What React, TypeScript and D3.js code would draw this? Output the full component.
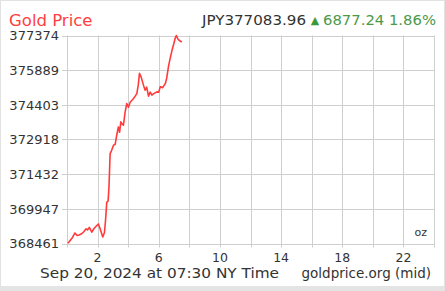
import React from "react";
import * as d3 from "d3";

const hours = [0.05,0.13,0.23,0.36,0.52,0.66,0.79,0.96,1.11,1.25,1.34,1.46,1.62,1.77,1.95,2.05,2.16,2.34,2.45,2.52,2.6,2.69,2.75,2.82,2.92,3.04,3.15,3.25,3.36,3.44,3.52,3.61,3.69,3.8,3.91,4.02,4.13,4.35,4.46,4.57,4.66,4.74,4.85,5.0,5.11,5.21,5.33,5.44,5.55,5.67,5.88,6.0,6.1,6.26,6.43,6.52,6.64,6.75,6.87,6.98,7.08,7.15,7.25,7.34,7.51];
const prices = [368470,368525,368611,368719,368912,368805,368826,368878,368976,369092,369041,369148,368946,369105,369234,369298,369105,368740,368933,369449,370222,370286,370952,372314,372455,372670,372713,373100,373456,373229,373671,373572,373529,374088,374461,374302,374517,374676,374775,374891,375247,375750,375590,375247,375032,375161,374775,374947,374818,374882,374959,374947,375174,375140,375320,375548,376063,376407,376750,377008,377266,377374,377223,377158,377094];
const yTicks = [368461, 369947, 371432, 372918, 374403, 375889, 377374];
const xLabelTicks = [2, 6, 10, 14, 18, 22];
const title = "Gold Price";
const priceText = "JPY377083.96";
const changeText = "6877.24 1.86%";
const footerLeft = "Sep 20, 2024 at 07:30 NY Time";
const footerRight = "goldprice.org (mid)";
const unitText = "oz";

const W = 445, H = 291;
const L = 67, R = 434, T = 35.5, B = 243.5;
const FONT = "'DejaVu Sans', Verdana, sans-serif";

export default function App() {
  const x = d3.scaleLinear().domain([0, 24]).range([L, R]);
  const y = d3.scaleLinear().domain([yTicks[0], yTicks[yTicks.length - 1]]).range([B, T]);
  const line = d3.line<number>().x((_, i) => x(hours[i])).y((d) => y(d));
  const gridX = d3.range(0, 25, 2);
  const grid = "#cfcfcf";
  return (
    <svg width={W} height={H} style={{ position: "absolute", left: 0, top: 0, background: "#fff" }} fontFamily={FONT}>
      <rect x={0.5} y={0.5} width={W - 1} height={H - 1} fill="#fff" stroke="#e2e2e2" />
      <rect x={0} y={286} width={W} height={5} fill="#e4e4e4" />
      {gridX.map((g) => (
        <line key={"gx" + g} x1={Math.round(x(g)) + 0.5} x2={Math.round(x(g)) + 0.5} y1={T} y2={B + 4} stroke={grid} strokeWidth={1} />
      ))}
      {yTicks.map((t) => (
        <line key={"gy" + t} x1={L - 5} x2={R} y1={Math.round(y(t)) + 0.5} y2={Math.round(y(t)) + 0.5} stroke={grid} strokeWidth={1} />
      ))}
      {yTicks.map((t) => (
        <text key={"ty" + t} x={59} y={y(t)} dy="0.36em" textAnchor="end" fontSize={13} fill="#333">{t}</text>
      ))}
      {xLabelTicks.map((t) => (
        <text key={"tx" + t} x={x(t)} y={262} textAnchor="middle" fontSize={12.5} fill="#333">{t}</text>
      ))}
      <path d={line(prices) || ""} fill="none" stroke="#ff3b3b" strokeWidth={1.6} strokeLinejoin="round" />
      <text x={427} y={236} textAnchor="end" fontSize={11} fill="#333">{unitText}</text>
      <text x={9} y={25.5} fontSize={16.5} fill="#ff4040">{title}</text>
      <text x={202} y={25} fontSize={14.5} fill="#333" textLength={104} lengthAdjust="spacingAndGlyphs">{priceText}</text>
      <text x={315} y={24} textAnchor="middle" fontSize={11} fill="#3a9a3a">{"▲"}</text>
      <text x={323} y={25} fontSize={14.5} fill="#4a9a4a" textLength={113} lengthAdjust="spacingAndGlyphs">{changeText}</text>
      <text x={40} y={277.5} fontSize={13.5} fill="#333" textLength={239} lengthAdjust="spacingAndGlyphs">{footerLeft}</text>
      <text x={431} y={277.5} textAnchor="end" fontSize={13.5} fill="#333">{footerRight}</text>
    </svg>
  );
}
